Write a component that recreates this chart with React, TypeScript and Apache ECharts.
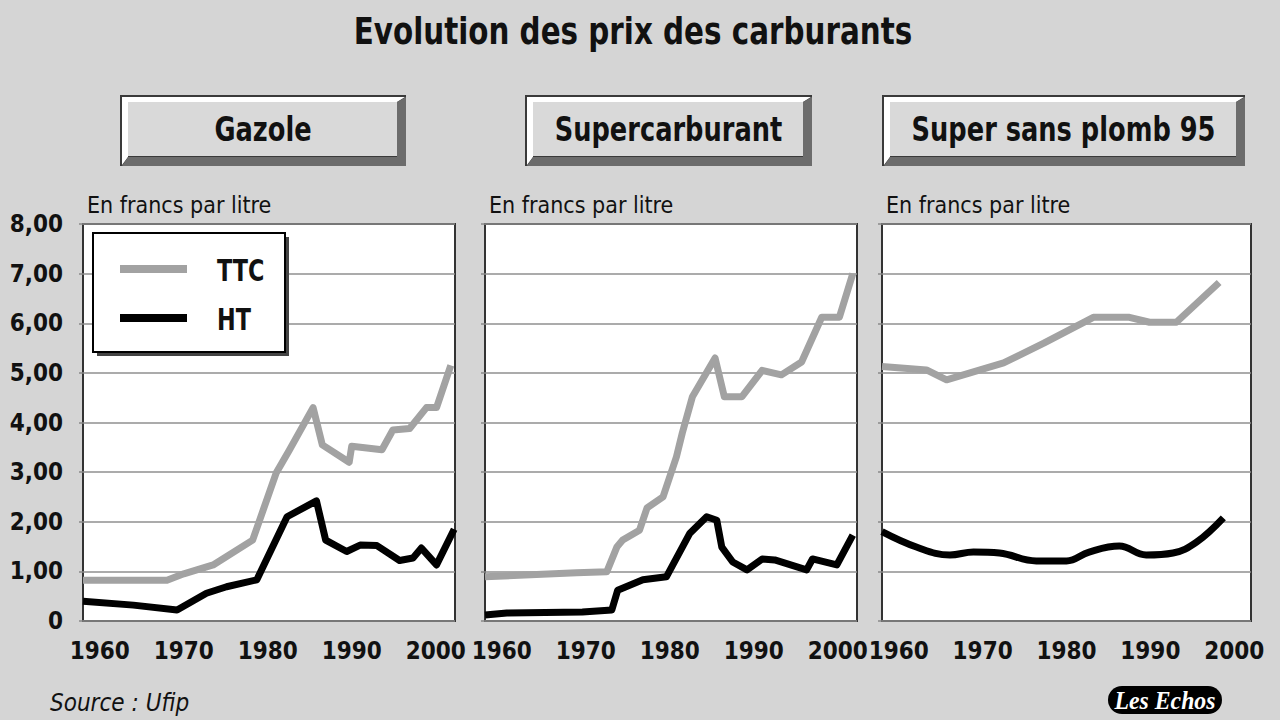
import React, { useEffect, useRef } from "react";
import * as echarts from "echarts";

// ---- data (francs per litre) ----
const panelTitles = ["Gazole", "Supercarburant", "Super sans plomb 95"];
const xTickYears = [1960, 1970, 1980, 1990, 2000];
const yTicks = [0, 1, 2, 3, 4, 5, 6, 7, 8];
const seriesNames = ["TTC", "HT"];

const gazoleTTC: [number, number][] = [
  [1958, 0.82], [1968, 0.82], [1970, 0.95], [1973.5, 1.13], [1978.2, 1.63], [1981, 2.98],
  [1982.6, 3.45], [1985.4, 4.3], [1986.5, 3.55], [1989.7, 3.2], [1990, 3.52], [1993.6, 3.45],
  [1994.9, 3.85], [1996.9, 3.88], [1998.9, 4.3], [2000.1, 4.3], [2001.8, 5.15],
];
const gazoleHT: [number, number][] = [
  [1958, 0.4], [1964, 0.32], [1969.2, 0.22], [1972.7, 0.56], [1975.1, 0.69], [1978.7, 0.83],
  [1982.3, 2.1], [1985.8, 2.42], [1986.9, 1.63], [1989.4, 1.4], [1991, 1.53], [1993, 1.52],
  [1995.7, 1.22], [1997.3, 1.27], [1998.3, 1.47], [2000.1, 1.13], [2002.2, 1.85],
];
const superTTC: [number, number][] = [
  [1958, 0.89], [1968.9, 0.97], [1972.5, 0.99], [1973.7, 1.49], [1974.4, 1.63], [1976.4, 1.83],
  [1977.3, 2.28], [1979.2, 2.5], [1980.8, 3.31], [1981.5, 3.79], [1982.7, 4.52], [1985.4, 5.3],
  [1986.5, 4.52], [1988.6, 4.52], [1991, 5.05], [1993.3, 4.96], [1995.7, 5.22], [1998.1, 6.12],
  [2000.2, 6.12], [2001.8, 7.0],
];
const superHT: [number, number][] = [
  [1958, 0.12], [1960.6, 0.16], [1969.6, 0.18], [1973.1, 0.22], [1973.8, 0.62], [1976.8, 0.83],
  [1979.6, 0.89], [1982.4, 1.77], [1984.4, 2.1], [1985.6, 2.03], [1986.2, 1.49], [1987.5, 1.19],
  [1989.2, 1.03], [1991, 1.25], [1992.5, 1.23], [1996.3, 1.03], [1997, 1.25], [1999.9, 1.13],
  [2001.8, 1.73],
];
const sspTTC: [number, number][] = [
  [1958, 5.13], [1963.3, 5.06], [1965.7, 4.86], [1972.5, 5.2], [1977.3, 5.6], [1983.2, 6.12],
  [1987.5, 6.12], [1989.9, 6.02], [1993.1, 6.02], [1998.2, 6.82],
];
const sspHT: [number, number][] = [
  [1958, 1.8], [1962.1, 1.49], [1966.1, 1.33], [1968.9, 1.39], [1972, 1.37], [1976.4, 1.21],
  [1980, 1.21], [1982.7, 1.39], [1986.3, 1.51], [1989.5, 1.33], [1992.7, 1.37], [1995.5, 1.59],
  [1998.7, 2.08],
];

const panelData = [
  [gazoleTTC, gazoleHT],
  [superTTC, superHT],
  [sspTTC, sspHT],
];

const NARROW = "'Liberation Sans Narrow', 'Arial Narrow', 'DejaVu Sans Condensed', sans-serif";
const GRAY = "#a2a2a2";
const BG = "#d5d5d5";

const grids = [
  { left: 83, top: 224, width: 372, height: 397, max: 2002.3 },
  { left: 485, top: 224, width: 372, height: 397, max: 2002.3 },
  { left: 882, top: 224, width: 369, height: 397, max: 2002 },
];
const buttons = [
  [120, 95, 406, 166],
  [525, 95, 812, 166],
  [882, 95, 1245, 166],
];

function button(x0: number, y0: number, x1: number, y1: number, label: string) {
  const b = 8;
  const w = x1 - x0;
  const h = y1 - y0;
  return [
    { type: "rect", shape: { x: x0, y: y0, width: w, height: h }, style: { fill: "#3a3a3a" } },
    {
      type: "polygon",
      shape: {
        points: [
          [x0 + 2, y0 + 2], [x1 - 1, y0 + 2], [x1 - 1 - b, y0 + 2 + b - 3],
          [x0 + 2 + b - 2, y0 + 2 + b - 3], [x0 + 2 + b - 2, y1 - 1 - b], [x0 + 2, y1 - 1],
        ],
      },
      style: { fill: "#ffffff" },
    },
    {
      type: "polygon",
      shape: {
        points: [
          [x1, y0 + 2], [x1, y1], [x0 + 2, y1], [x0 + 2 + b - 2, y1 - 1 - b],
          [x1 - 1 - b, y1 - 1 - b], [x1 - 1 - b, y0 + 2 + b - 3],
        ],
      },
      style: { fill: "#6c6c6c" },
    },
    {
      type: "rect",
      shape: { x: x0 + b, y: y0 + b - 1, width: w - 2 * b - 1, height: h - 2 * b - 1 },
      style: { fill: "#d9d9d9" },
    },
    {
      type: "text",
      x: (x0 + x1) / 2,
      y: (y0 + y1) / 2 - 1,
      scaleX: 0.84,
      style: {
        text: label, fill: "#111", font: `bold 34px ${NARROW}`,
        textAlign: "center", textVerticalAlign: "middle",
      },
    },
  ];
}

export default function App() {
  const ref = useRef<HTMLDivElement>(null);
  useEffect(() => {
    const chart = echarts.init(ref.current!, undefined, { renderer: "svg" });
    const fmtY = (v: number) => (v === 0 ? "0" : v.toFixed(2).replace(".", ","));

    const graphic: any[] = [];
    graphic.push({
      type: "text", x: 633, y: 31, scaleX: 0.86,
      style: {
        text: "Evolution des prix des carburants", fill: "#111",
        font: `bold 38px ${NARROW}`, textAlign: "center", textVerticalAlign: "middle",
      },
    });
    buttons.forEach((bb, i) => graphic.push(...button(bb[0], bb[1], bb[2], bb[3], panelTitles[i])));
    grids.forEach((g) => {
      graphic.push({
        type: "text", x: g.left + 4, y: 205,
        style: { text: "En francs par litre", fill: "#111", font: `23px ${NARROW}`, textVerticalAlign: "middle" },
      });
    });
    // legend box
    graphic.push(
      { type: "rect", z: 50, shape: { x: 97, y: 237, width: 192, height: 119 }, style: { fill: "#444" } },
      { type: "rect", z: 51, shape: { x: 93, y: 233, width: 192, height: 119 }, style: { fill: "#fff", stroke: "#000", lineWidth: 2 } },
      { type: "line", z: 52, shape: { x1: 120, y1: 269, x2: 187, y2: 269 }, style: { stroke: GRAY, lineWidth: 8 } },
      { type: "line", z: 52, shape: { x1: 120, y1: 318, x2: 187, y2: 318 }, style: { stroke: "#000", lineWidth: 8 } },
      { type: "text", z: 52, x: 217, y: 271, scaleX: 0.8, style: { text: seriesNames[0], fill: "#111", font: `bold 31px ${NARROW}`, textVerticalAlign: "middle" } },
      { type: "text", z: 52, x: 217, y: 320, scaleX: 0.8, style: { text: seriesNames[1], fill: "#111", font: `bold 31px ${NARROW}`, textVerticalAlign: "middle" } },
    );
    graphic.push({
      type: "text", x: 50, y: 703,
      style: { text: "Source : Ufip", fill: "#111", font: `italic 24px ${NARROW}`, textVerticalAlign: "middle" },
    });
    graphic.push(
      { type: "rect", shape: { x: 1108, y: 686, width: 114, height: 28, r: 14 }, style: { fill: "#000" } },
      {
        type: "text", x: 1165, y: 700, scaleX: 0.95,
        style: {
          text: "Les Echos", fill: "#fff", font: `italic bold 25px 'Liberation Serif', 'DejaVu Serif', serif`,
          textAlign: "center", textVerticalAlign: "middle",
        },
      },
    );

    const option: any = {
      animation: false,
      backgroundColor: BG,
      grid: grids.map((g) => ({
        left: g.left, top: g.top, width: g.width, height: g.height, show: true,
        backgroundColor: "#fff", borderColor: "#333", borderWidth: 2,
      })),
      xAxis: grids.map((g, i) => ({
        type: "value", gridIndex: i, min: 1958, max: g.max, interval: 1,
        axisLine: { show: false }, axisTick: { show: false }, splitLine: { show: false },
        axisLabel: {
          margin: 18, color: "#111", fontFamily: NARROW, fontWeight: "bold", fontSize: 24,
          formatter: (v: number) => (xTickYears.includes(v) ? String(v) : ""),
        },
      })),
      yAxis: grids.map((g, i) => ({
        type: "value", gridIndex: i, min: yTicks[0], max: yTicks[yTicks.length - 1], interval: 1,
        axisLine: { show: false },
        axisTick: { show: true, length: 4, lineStyle: { color: "#888", width: 1.5 } },
        splitLine: { show: true, lineStyle: { color: "#8f8f8f", width: 1.5 } },
        axisLabel: {
          show: i === 0, margin: 20, color: "#111", fontFamily: NARROW, fontWeight: "bold", fontSize: 24,
          formatter: fmtY,
        },
      })),
      series: panelData.flatMap((pair, i) =>
        pair.map((d, j) => ({
          type: "line", name: seriesNames[j], xAxisIndex: i, yAxisIndex: i, data: d,
          symbol: "none", smooth: i === 2 && j === 1 ? 0.4 : false,
          lineStyle: { color: j === 0 ? GRAY : "#000", width: 7, join: "round" },
          z: j === 0 ? 3 : 4,
        })),
      ),
      graphic,
    };
    chart.setOption(option);
    return () => chart.dispose();
  }, []);
  return (
    <div
      ref={ref}
      style={{ position: "fixed", left: 0, top: 0, width: 1280, height: 720 }}
    />
  );
}
